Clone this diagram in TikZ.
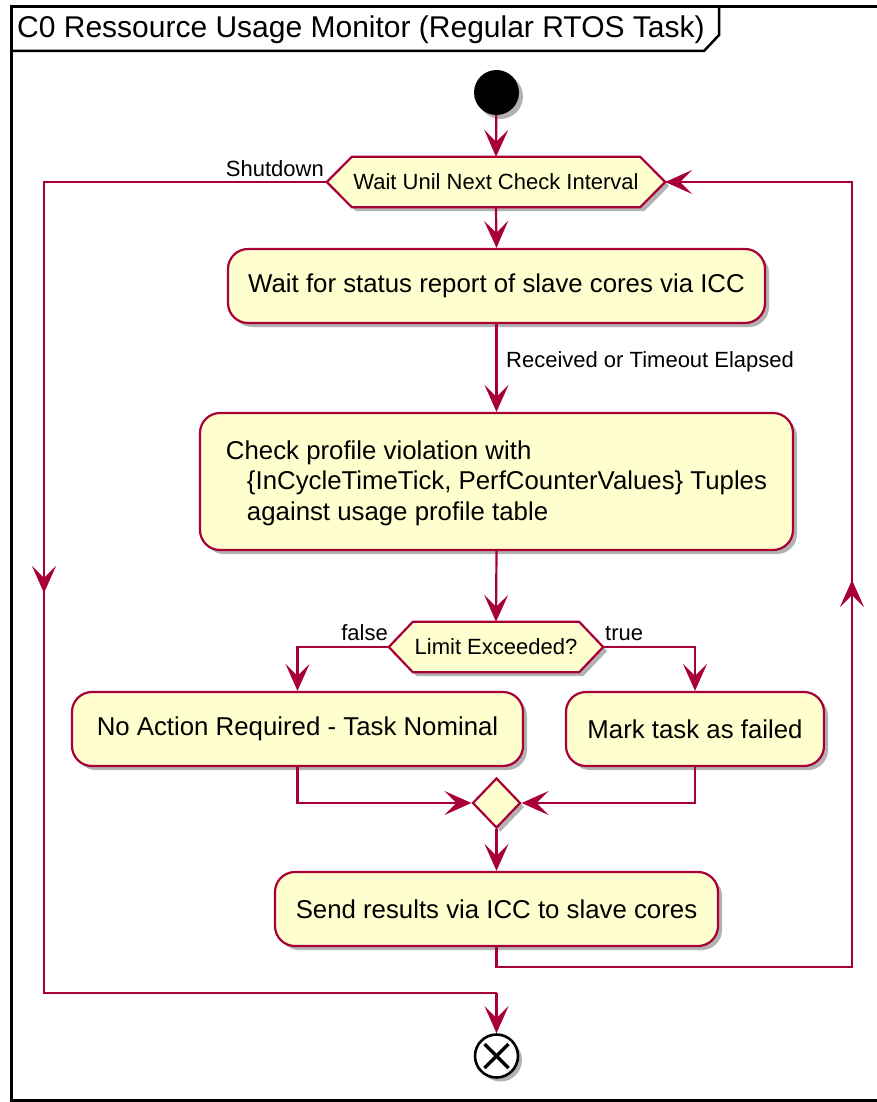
\documentclass[tikz,border=0pt]{standalone}
\usepackage{fontspec}
\setmainfont{Liberation Sans}
\usetikzlibrary{arrows.meta,shadows,shapes.geometric}
\definecolor{umlline}{HTML}{A80036}
\definecolor{umlfill}{HTML}{FEFECE}
\pgfdeclarelayer{bg}
\pgfsetlayers{bg,main}

\begin{document}
\begin{tikzpicture}[x=1pt,y=-1pt,
  shade/.style={drop shadow={shadow xshift=4pt,shadow yshift=-4pt,opacity=0.3,fill=black}},
  flow/.style={draw=umlline,line width=2.2pt},
  tip/.style={-{Stealth[length=27pt,width=24pt,inset=12pt]}},
  action/.style={draw=umlline,fill=umlfill,line width=2.2pt,rounded corners=20pt,
    inner sep=0pt,shade,font=\fontsize{25.8}{30.5}\selectfont},
  hextext/.style={inner sep=0pt,font=\fontsize{22}{26}\selectfont},
  hexshape/.style={draw=umlline,fill=umlfill,line width=2.2pt,line join=miter,shade},
  lbl/.style={inner sep=0pt,font=\fontsize{22}{26}\selectfont},
]
\useasboundingbox (0,0) rectangle (877,1102);

% outer frame and title tab
\draw[line width=3pt] (11,7) rectangle (900,1100);
\draw[line width=2.5pt,line join=miter] (11,51) -- (704,51) -- (719,35) -- (719,7);
\node[anchor=west,inner sep=0pt,font=\fontsize{30}{34}\selectfont] (title) at (17,30)
  {C0 Ressource Usage Monitor (Regular RTOS Task)};

% start
\node[circle,fill=black,minimum size=45pt,inner sep=0pt,shade] (start) at (496.5,92.5) {};

% loop head
\node[hextext,minimum width=338pt,minimum height=50pt] (h1) at (496,182)
  {Wait Unil Next Check Interval};

% actions
\node[action,minimum width=537pt,minimum height=74pt] (b1) at (496.5,286)
  {\raisebox{-2pt}{Wait for status report of slave cores via ICC}};
\node[action,minimum width=593pt,minimum height=137pt,align=left] (b2) at (496.5,481.5)
  {\rule{0pt}{22pt}Check profile violation with\\
   \hspace*{21pt}\{InCycleTimeTick, PerfCounterValues\} Tuples\\
   \hspace*{21pt}against usage profile table};
\node[hextext,minimum width=214pt,minimum height=50pt] (h2) at (496,647)
  {Limit Exceeded?};
\node[action,minimum width=451pt,minimum height=74pt] (b3) at (297.5,729)
  {\raisebox{-2pt}{No Action Required - Task Nominal}};
\node[action,minimum width=258pt,minimum height=74pt] (b4) at (695,729)
  {\raisebox{-2pt}{Mark task as failed}};
\node[diamond,draw=umlline,fill=umlfill,line width=2.2pt,inner sep=0pt,
  minimum width=48pt,minimum height=50pt,shade] (m) at (496.5,803) {};
\node[action,minimum width=443pt,minimum height=74pt] (b5) at (496.5,909)
  {\raisebox{-2pt}{Send results via ICC to slave cores}};

% stop
\node[circle,draw=black,fill=white,line width=2.6pt,minimum size=43pt,inner sep=0pt,shade,
  path picture={\draw[line width=3.4pt]
    ([shift={(-12pt,-12pt)}]path picture bounding box.center) --
    ([shift={(12pt,12pt)}]path picture bounding box.center)
    ([shift={(-12pt,12pt)}]path picture bounding box.center) --
    ([shift={(12pt,-12pt)}]path picture bounding box.center);}] (stop) at (496.5,1056) {};

% hexagon outlines behind their texts
\begin{pgfonlayer}{bg}
\path[hexshape] (h1.west) -- ([xshift=25pt]h1.north west) -- ([xshift=-25pt]h1.north east)
  -- (h1.east) -- ([xshift=-25pt]h1.south east) -- ([xshift=25pt]h1.south west) -- cycle;
\path[hexshape] (h2.west) -- ([xshift=24pt]h2.north west) -- ([xshift=-24pt]h2.north east)
  -- (h2.east) -- ([xshift=-24pt]h2.south east) -- ([xshift=24pt]h2.south west) -- cycle;
\end{pgfonlayer}

% labels
\node[lbl,anchor=east] (lshut) at (324,169) {Shutdown};
\node[lbl,anchor=west] (lrec) at (506,362) {Received or Timeout Elapsed};
\node[lbl,anchor=east] (lfalse) at (388,633) {false};
\node[lbl,anchor=west] (ltrue) at (605,633) {true};

% routing points
\coordinate (lt) at (44,182);
\coordinate (ljoin) at (496.5,993);
\coordinate (lmidb) at (44,566);
\coordinate (lmid) at (44,593);
\coordinate (rb) at (852,967);
\coordinate (rt) at (852,182);
\coordinate (rmidb) at (852,607);
\coordinate (rmid) at (852,580);

% connectors
\draw[flow,tip] (start) -- (h1.north);
\draw[flow,tip] (h1.south) -- (b1.north);
\draw[flow,tip] (b1.south) -- (b2.north);
\draw[flow,tip] (b2.south) -- (h2.north);
\draw[flow,tip] (h2.west) -| (b3.north);
\draw[flow,tip] (h2.east) -| (b4.north);
\draw[flow,tip] (b3.south) |- (m.west);
\draw[flow,tip] (b4.south) |- (m.east);
\draw[flow,tip] (m.south) -- (b5.north);
\draw[flow,tip] (b5.south) |- (rb) -- (rt) -- (h1.east);
\draw[flow,tip] (rmidb) -- (rmid);
\draw[flow] (h1.west) -- (lt) |- (ljoin);
\draw[flow,tip] (lmidb) -- (lmid);
\draw[flow,tip] (ljoin) -- (stop.north);
\end{tikzpicture}
\end{document}
